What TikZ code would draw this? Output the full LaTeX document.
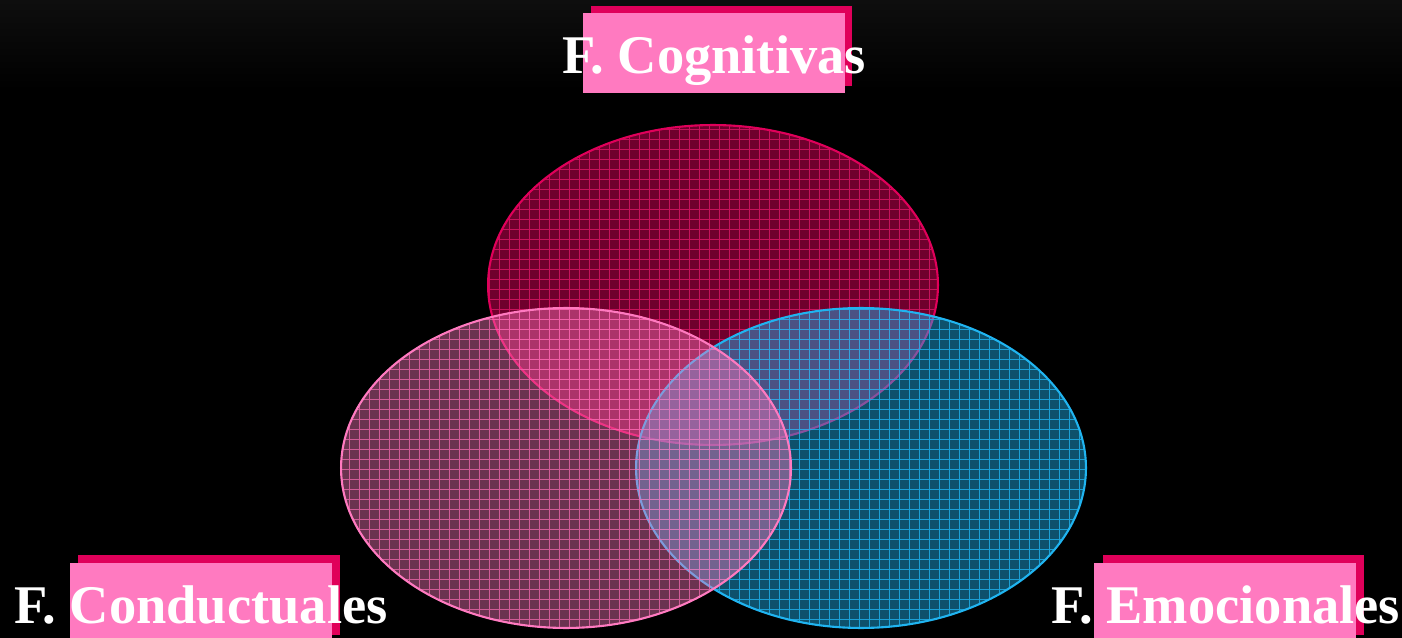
\documentclass[tikz,border=0pt]{standalone}
\usepackage{fontspec}
\setmainfont{Liberation Serif}
\usepackage{tikz}
\definecolor{crimson}{RGB}{224,0,90}
\definecolor{rosa}{RGB}{255,122,192}
\definecolor{celeste}{RGB}{32,180,240}
\tikzset{
  shadowbox/.style={fill=crimson, minimum width=5.24cm, minimum height=1.6cm, inner sep=0pt},
  pinkbox/.style={fill=rosa, minimum width=5.24cm, minimum height=1.6cm, inner sep=0pt},
  title/.style={text=white, font=\bfseries\fontsize{31}{36}\selectfont, anchor=base, inner sep=0pt}
}
\begin{document}
\begin{tikzpicture}[x=0.02cm, y=-0.02cm]
		%%%%% START %%%%%
		
		\fill[black] (0, 0) rectangle (1402, 638);
		\shade[top color={rgb,255:red,14;green,14;blue,14}, bottom color=black] (0, 0) rectangle (1402, 90);
		\useasboundingbox (0, 0) rectangle (1402, 638);
		
		% cognitivas
		\begin{scope}
			\clip (713, 285) ellipse (4.5cm and 3.2cm);
			\fill[crimson, opacity=0.5] (713, 285) ellipse (4.5cm and 3.2cm);
			\draw[crimson!90!white, line width=0.6pt, opacity=0.75, step=0.2cm] (480, 120) grid (950, 450);
		\end{scope}
		\draw[crimson, line width=1.2pt] (713, 285) ellipse (4.5cm and 3.2cm);
		
		% emocionales
		\begin{scope}
			\clip (861, 468) ellipse (4.5cm and 3.2cm);
			\fill[celeste, opacity=0.45] (861, 468) ellipse (4.5cm and 3.2cm);
			\draw[celeste, line width=0.6pt, opacity=0.8, step=0.2cm] (630, 300) grid (1090, 640);
		\end{scope}
		\draw[celeste, line width=1.2pt] (861, 468) ellipse (4.5cm and 3.2cm);
		
		% conductuales
		\begin{scope}
			\clip (566, 468) ellipse (4.5cm and 3.2cm);
			\fill[rosa, opacity=0.42] (566, 468) ellipse (4.5cm and 3.2cm);
			\draw[rosa!90!crimson, line width=0.6pt, opacity=0.7, step=0.2cm] (330, 300) grid (800, 640);
		\end{scope}
		\draw[rosa, line width=1.2pt] (566, 468) ellipse (4.5cm and 3.2cm);
		
		% etiquetas
		\node[shadowbox] (cogsombra) at (721.5, 46) {};
		\node[pinkbox] (cogcaja) at (714, 53) {};
		\node[title] (cog) at (714, 74) {F. Cognitivas};
		
		\node[shadowbox] (consombra) at (209, 595) {};
		\node[pinkbox] (concaja) at (201, 603) {};
		\node[title] (con) at (201, 623) {F. Conductuales};
		
		\node[shadowbox] (emosombra) at (1233.5, 595) {};
		\node[pinkbox] (emocaja) at (1225, 603) {};
		\node[title] (emo) at (1225.5, 623) {F. Emocionales};
		
		%%%%% END %%%%%
	\end{tikzpicture}
\end{document}
